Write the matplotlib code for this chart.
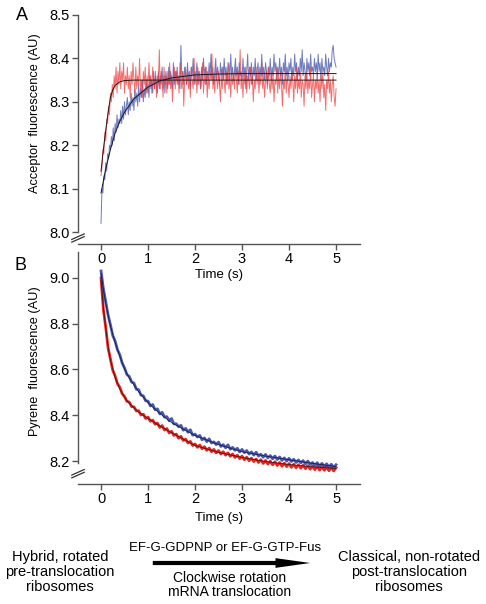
import numpy as np
import matplotlib
matplotlib.use("Agg")
import matplotlib.pyplot as plt
from matplotlib.patches import FancyArrowPatch

plt.rcParams['font.family'] = ['Liberation Sans', 'DejaVu Sans']

# ---- panel A: acceptor fluorescence, sampled every 0.02 s ----
time_a = np.round(np.arange(0, 251) * 0.02, 2)
acc_red = [8.13, 8.15, 8.19, 8.18, 8.23, 8.21, 8.26, 8.25, 8.29, 8.27, 8.32, 8.30, 8.34, 8.31, 8.36, 8.33, 8.38, 8.32, 8.37, 8.34, 8.39,
           8.33, 8.37, 8.35, 8.39, 8.32, 8.36, 8.34, 8.38, 8.33, 8.36,
           8.31, 8.37, 8.34, 8.39, 8.35, 8.32, 8.38, 8.33, 8.36, 8.34,
           8.40, 8.33, 8.35, 8.31, 8.37, 8.34, 8.38, 8.32, 8.36, 8.33,
           8.39, 8.34, 8.36, 8.32, 8.38, 8.35, 8.33, 8.37, 8.31, 8.36,
           8.34, 8.42, 8.33, 8.37, 8.35, 8.31, 8.38, 8.34, 8.36, 8.32,
           8.37, 8.34, 8.39, 8.33, 8.36, 8.30, 8.35, 8.38, 8.33, 8.37,
           8.34, 8.36, 8.32, 8.39, 8.35, 8.33, 8.37, 8.29, 8.35, 8.38,
           8.34, 8.37, 8.33, 8.36, 8.31, 8.38, 8.35, 8.33, 8.40, 8.34,
           8.36, 8.32, 8.38, 8.34, 8.37, 8.33, 8.35, 8.39, 8.32, 8.36,
           8.34, 8.38, 8.31, 8.36, 8.33, 8.37, 8.35, 8.41, 8.33, 8.36,
           8.32, 8.38, 8.35, 8.33, 8.37, 8.34, 8.30, 8.36, 8.33, 8.38,
           8.35, 8.32, 8.37, 8.34, 8.39, 8.33, 8.36, 8.31, 8.37, 8.34,
           8.36, 8.33, 8.38, 8.35, 8.32, 8.37, 8.34, 8.42, 8.33, 8.36,
           8.31, 8.37, 8.34, 8.38, 8.32, 8.36, 8.35, 8.33, 8.38, 8.34,
           8.36, 8.30, 8.35, 8.33, 8.38, 8.34, 8.37, 8.32, 8.36, 8.34,
           8.39, 8.33, 8.36, 8.31, 8.35, 8.37, 8.33, 8.38, 8.34, 8.32,
           8.36, 8.33, 8.37, 8.30, 8.35, 8.34, 8.38, 8.32, 8.36, 8.33,
           8.37, 8.34, 8.29, 8.35, 8.33, 8.38, 8.32, 8.36, 8.34, 8.31,
           8.36, 8.33, 8.37, 8.35, 8.30, 8.36, 8.33, 8.38, 8.32, 8.35,
           8.33, 8.37, 8.31, 8.35, 8.34, 8.29, 8.36, 8.33, 8.37, 8.32,
           8.35, 8.33, 8.38, 8.31, 8.34, 8.36, 8.30, 8.35, 8.33, 8.37,
           8.32, 8.35, 8.30, 8.36, 8.33, 8.37, 8.31, 8.34, 8.28, 8.35,
           8.33, 8.37, 8.32, 8.35, 8.30, 8.34, 8.36, 8.31, 8.29, 8.33]
acc_blue = [8.02, 8.10, 8.09, 8.13, 8.12, 8.16, 8.14, 8.18, 8.17, 8.20, 8.19, 8.22, 8.20, 8.24, 8.21, 8.25, 8.23, 8.27, 8.24, 8.26, 8.25,
            8.28, 8.25, 8.29, 8.26, 8.30, 8.27, 8.29, 8.31, 8.27, 8.30,
            8.28, 8.32, 8.29, 8.31, 8.28, 8.33, 8.30, 8.32, 8.29, 8.34,
            8.30, 8.33, 8.31, 8.35, 8.30, 8.33, 8.31, 8.35, 8.32, 8.34,
            8.31, 8.36, 8.33, 8.35, 8.32, 8.37, 8.33, 8.36, 8.34, 8.32,
            8.37, 8.33, 8.36, 8.34, 8.38, 8.33, 8.36, 8.32, 8.37, 8.35,
            8.33, 8.38, 8.34, 8.37, 8.35, 8.33, 8.39, 8.34, 8.37, 8.35,
            8.38, 8.34, 8.36, 8.33, 8.43, 8.35, 8.37, 8.34, 8.38, 8.36,
            8.34, 8.39, 8.35, 8.37, 8.33, 8.38, 8.36, 8.40, 8.34, 8.37,
            8.35, 8.39, 8.34, 8.37, 8.36, 8.33, 8.38, 8.35, 8.40, 8.36,
            8.38, 8.34, 8.37, 8.35, 8.39, 8.36, 8.41, 8.35, 8.38, 8.34,
            8.37, 8.40, 8.35, 8.38, 8.36, 8.34, 8.39, 8.36, 8.38, 8.35,
            8.40, 8.36, 8.38, 8.34, 8.37, 8.39, 8.35, 8.41, 8.36, 8.38,
            8.35, 8.37, 8.40, 8.36, 8.38, 8.34, 8.39, 8.36, 8.37, 8.35,
            8.40, 8.36, 8.38, 8.33, 8.37, 8.41, 8.35, 8.38, 8.36, 8.39,
            8.34, 8.38, 8.36, 8.40, 8.35, 8.37, 8.39, 8.35, 8.38, 8.36,
            8.41, 8.36, 8.38, 8.35, 8.39, 8.37, 8.34, 8.38, 8.36, 8.40,
            8.35, 8.38, 8.36, 8.41, 8.37, 8.39, 8.35, 8.38, 8.36, 8.40,
            8.36, 8.38, 8.34, 8.39, 8.37, 8.41, 8.36, 8.38, 8.35, 8.39,
            8.37, 8.40, 8.35, 8.38, 8.36, 8.41, 8.37, 8.39, 8.35, 8.38,
            8.36, 8.40, 8.37, 8.42, 8.36, 8.39, 8.37, 8.35, 8.40, 8.37,
            8.39, 8.36, 8.41, 8.37, 8.38, 8.36, 8.40, 8.37, 8.39, 8.36,
            8.41, 8.37, 8.39, 8.35, 8.40, 8.37, 8.38, 8.36, 8.41, 8.38,
            8.36, 8.40, 8.37, 8.39, 8.38, 8.42, 8.43, 8.40, 8.39, 8.38]

# fitted curves
fit_a_red_t = [0, 0.05, 0.1, 0.15, 0.2, 0.25, 0.3, 0.4, 0.5, 0.7, 1.0, 5.0]
fit_a_red = [8.14, 8.19, 8.234, 8.275, 8.31, 8.328, 8.338, 8.346, 8.349, 8.35, 8.35, 8.35]
fit_a_blue_t = [0, 0.1, 0.2, 0.3, 0.4, 0.5, 0.7, 1.0, 1.25, 1.5, 2.0, 2.5, 3.0, 5.0]
fit_a_blue = [8.09, 8.145, 8.19, 8.228, 8.255, 8.276, 8.307, 8.334, 8.348, 8.355, 8.362, 8.364, 8.365, 8.365]

# ---- panel B: pyrene fluorescence, sampled every 0.05 s ----
time_b = np.round(np.arange(0, 101) * 0.05, 2)
pyr_blue = [9.030, 8.952, 8.896, 8.838, 8.795, 8.748, 8.724, 8.686, 8.664, 8.628,
            8.607, 8.578, 8.570, 8.545, 8.541, 8.514, 8.512, 8.488, 8.485, 8.463,
            8.462, 8.441, 8.447, 8.424, 8.428, 8.406, 8.413, 8.392, 8.394, 8.376,
            8.386, 8.362, 8.363, 8.350, 8.356, 8.335, 8.343, 8.326, 8.337, 8.313,
            8.318, 8.305, 8.312, 8.293, 8.301, 8.285, 8.297, 8.279, 8.284, 8.272,
            8.283, 8.264, 8.272, 8.258, 8.271, 8.252, 8.260, 8.247, 8.256, 8.240,
            8.251, 8.237, 8.246, 8.231, 8.240, 8.226, 8.239, 8.222, 8.230, 8.217,
            8.229, 8.214, 8.224, 8.210, 8.222, 8.207, 8.218, 8.203, 8.214, 8.200,
            8.212, 8.198, 8.208, 8.194, 8.205, 8.192, 8.202, 8.188, 8.200, 8.185,
            8.194, 8.181, 8.193, 8.178, 8.190, 8.176, 8.188, 8.174, 8.186, 8.172,
            8.184]
pyr_red = [9.000, 8.862, 8.784, 8.694, 8.646, 8.596, 8.572, 8.538, 8.522, 8.494,
           8.482, 8.461, 8.458, 8.438, 8.437, 8.419, 8.420, 8.401, 8.405, 8.386,
           8.392, 8.374, 8.379, 8.361, 8.366, 8.347, 8.355, 8.336, 8.342, 8.323,
           8.330, 8.312, 8.318, 8.300, 8.308, 8.290, 8.296, 8.279, 8.286, 8.268,
           8.275, 8.260, 8.270, 8.254, 8.263, 8.247, 8.257, 8.241, 8.251, 8.236,
           8.246, 8.231, 8.241, 8.226, 8.236, 8.221, 8.231, 8.216, 8.226, 8.211,
           8.222, 8.206, 8.217, 8.202, 8.213, 8.198, 8.209, 8.194, 8.206, 8.190,
           8.203, 8.187, 8.200, 8.184, 8.197, 8.181, 8.194, 8.178, 8.191, 8.176,
           8.189, 8.173, 8.186, 8.171, 8.184, 8.169, 8.182, 8.167, 8.180, 8.165,
           8.178, 8.163, 8.177, 8.161, 8.175, 8.160, 8.174, 8.158, 8.172, 8.157,
           8.171]

fit_b_t = [0, 0.05, 0.1, 0.15, 0.2, 0.3, 0.4, 0.5, 0.6, 0.8, 1.0, 1.2, 1.5, 2.0, 2.5, 3.0, 3.5, 4.0, 4.5, 5.0]
fit_b_red = [8.99, 8.87, 8.78, 8.70, 8.64, 8.565, 8.515, 8.478, 8.452, 8.414, 8.386, 8.36, 8.324,
             8.268, 8.238, 8.216, 8.198, 8.185, 8.175, 8.168]
fit_b_blue = [9.02, 8.95, 8.89, 8.837, 8.79, 8.718, 8.658, 8.602, 8.563, 8.503, 8.455, 8.417, 8.368,
              8.312, 8.272, 8.241, 8.222, 8.206, 8.190, 8.176]

x_ticks = [0, 1, 2, 3, 4, 5]
a_ticks = [8.0, 8.1, 8.2, 8.3, 8.4, 8.5]
b_ticks = [8.2, 8.4, 8.6, 8.8, 9.0]

W, H = 486, 604
fig = plt.figure(figsize=(W / 100, H / 100), dpi=100)


def rect(x0, y0, x1, y1):
    return [x0 / W, 1 - y1 / H, (x1 - x0) / W, (y1 - y0) / H]


def style(ax, ylo, yticks):
    ax.patch.set_alpha(0)
    for s in ['top', 'right']:
        ax.spines[s].set_visible(False)
    for s in ['left', 'bottom']:
        ax.spines[s].set_color('#555555')
        ax.spines[s].set_linewidth(1.0)
    ax.spines['left'].set_bounds(ylo, ax.get_ylim()[1])
    ax.set_xticks(x_ticks)
    ax.set_yticks(yticks)
    ax.set_yticklabels(['%.1f' % v for v in yticks])
    ax.tick_params(direction='out', length=4, width=1, color='#555555', labelsize=10.5, pad=2)
    # axis break marks
    y0, y1 = ax.get_ylim()
    yb = (ylo - y0) / (y1 - y0) * 0.5
    for dy in (-0.006, 0.006):
        ax.plot([-0.022, 0.022], [yb + dy - 0.012, yb + dy + 0.012], transform=ax.transAxes,
                color='#333333', lw=0.9, clip_on=False)


# panel A
ax1 = fig.add_axes(rect(78, 15, 360, 244))
ax1.plot(time_a, acc_blue, color='#4a5ab0', lw=0.7, alpha=0.8)
ax1.plot(time_a, acc_red, color='#f03c3c', lw=0.7, alpha=0.75)
ax1.plot(fit_a_red_t, fit_a_red, color='#2a1414', lw=0.7)
ax1.plot(fit_a_blue_t, fit_a_blue, color='#14142a', lw=0.7)
ax1.set_xlim(-0.49, 5.51)
ax1.set_ylim(7.9724, 8.5)
style(ax1, 8.0, a_ticks)

# panel B
ax2 = fig.add_axes(rect(78, 252, 360, 484))
ax2.plot(time_b, pyr_red, color='#e8231d', lw=2.0)
ax2.plot(time_b, pyr_blue, color='#3446a8', lw=2.0, alpha=0.9)
ax2.plot(fit_b_t, fit_b_red, color='#2a1414', lw=0.5)
ax2.plot(fit_b_t, fit_b_blue, color='#14142a', lw=0.5)
ax2.set_xlim(-0.49, 5.51)
ax2.set_ylim(8.1, 9.113)
style(ax2, 8.19, b_ticks)

# labels
fig.text(22 / W, 1 - 16 / H, 'A', fontsize=13, ha='center', va='center')
fig.text(20 / W, 1 - 265 / H, 'B', fontsize=13, ha='center', va='center')
fig.text(35 / W, 1 - 113 / H, 'Acceptor  fluorescence (AU)', rotation=90, fontsize=9.2,
         ha='center', va='center')
fig.text(35 / W, 1 - 361 / H, 'Pyrene  fluorescence (AU)', rotation=90, fontsize=9.2,
         ha='center', va='center')
fig.text(219 / W, 1 - 275 / H, 'Time (s)', fontsize=9.5, ha='center', va='center')
fig.text(219 / W, 1 - 518 / H, 'Time (s)', fontsize=9.5, ha='center', va='center')

# bottom scheme
fig.text(60 / W, 1 - 572 / H, 'Hybrid, rotated\npre-translocation\nribosomes', fontsize=10.5,
         ha='center', va='center', linespacing=1.1)
fig.text(409 / W, 1 - 572 / H, 'Classical, non-rotated\npost-translocation\nribosomes', fontsize=10.5,
         ha='center', va='center', linespacing=1.1)
fig.text(225 / W, 1 - 548 / H, 'EF-G-GDPNP or EF-G-GTP-Fus', fontsize=9.5,
         ha='center', va='center')
fig.text(230 / W, 1 - 585 / H, 'Clockwise rotation\nmRNA translocation', fontsize=10,
         ha='center', va='center', linespacing=1.05)
arrow = FancyArrowPatch((150 / W, 1 - 563 / H), (313 / W, 1 - 563 / H), transform=fig.transFigure,
                        arrowstyle='simple,head_length=2.5,head_width=0.7,tail_width=0.3',
                        mutation_scale=10, color='black', lw=0)
fig.add_artist(arrow)

fig.savefig('out.png', dpi=100)
